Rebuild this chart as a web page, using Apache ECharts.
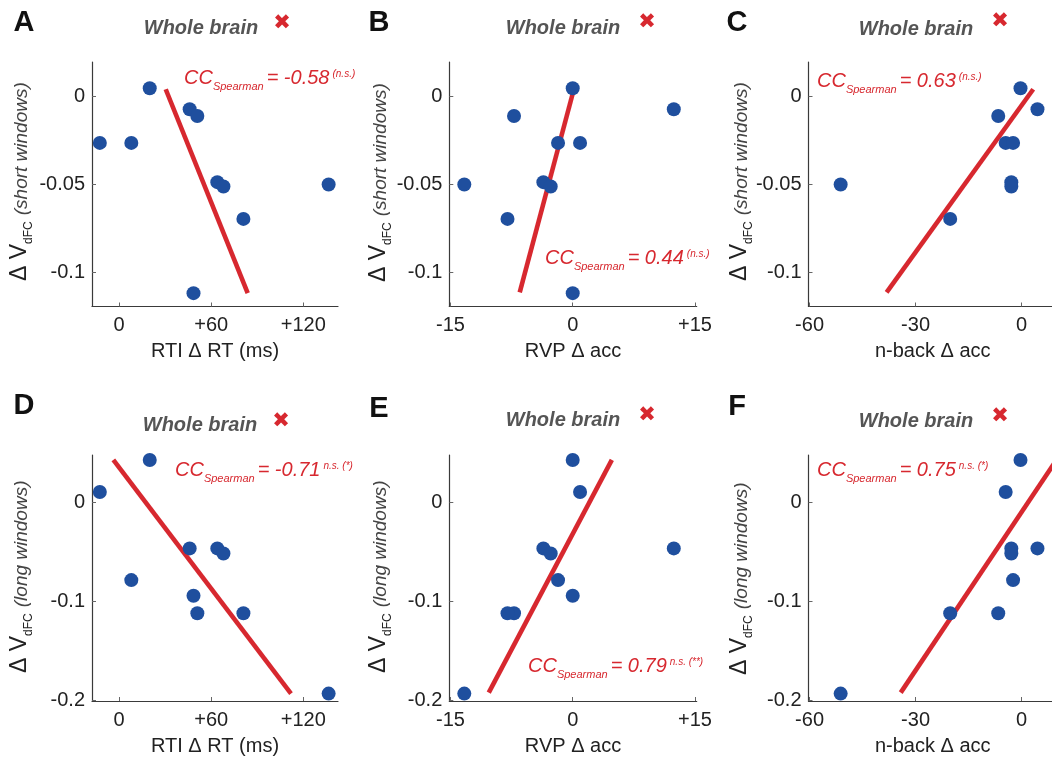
<!DOCTYPE html>
<html>
<head>
<meta charset="utf-8">
<script src="https://cdn.jsdelivr.net/npm/echarts@6/dist/echarts.min.js"></script>
<style>
  html, body { margin: 0; padding: 0; background: #fff; }
  #chart { width: 1052px; height: 760px; }
</style>
</head>
<body>
<div id="chart"></div>
<script>
// Ten subjects, same order in every array (n-back missing for the last one)
const rtiDeltaRT    = [20, 46, 51, -12.5, 8, 64, 136.5, 68, 81, 48.5];
const rvpDeltaAcc   = [0, 12.4, -7.2, 0.9, -1.8, -3.6, -13.3, -2.7, -8, 0];
const nbackDeltaAcc = [-0.3, 4.5, -6.6, -4.5, -2.4, -2.9, -51.2, -2.9, -20.2, null];
const dvShort = [0.0048, -0.0072, -0.011, -0.0263, -0.0263, -0.0486, -0.0499, -0.0511, -0.0695, -0.1117];
const dvLong  = [0.0429, -0.0466, -0.1122, 0.0104, -0.0787, -0.0466, -0.1935, -0.0517, -0.1122, -0.0945];

// Fitted trend segments (start, end)
const fitA = [[30.4, 0.0042], [83.8, -0.1117]];
const fitB = [[-6.5, -0.1113], [0.1, 0.0035]];
const fitC = [[-38.2, -0.1113], [3.3, 0.0042]];
const fitD = [[-3.7, 0.0429], [112, -0.1935]];
const fitE = [[-10.3, -0.1925], [4.8, 0.043]];
const fitF = [[-34.2, -0.1925], [9.9, 0.043]];

// Spearman coefficients and significance notes
const ccValues = ['-0.58', '0.44', '0.63', '-0.71', '0.79', '0.75'];
const ccNotes  = ['(n.s.)', '(n.s.)', '(n.s.)', 'n.s. (*)', 'n.s. (**)', 'n.s. (*)'];
const panelLetters = ['A', 'B', 'C', 'D', 'E', 'F'];

// Tick positions
const ticksRT    = [0, 60, 120];
const ticksRVP   = [-15, 0, 15];
const ticksNback = [-60, -30, 0];
const ticksShort = [-0.1, -0.05, 0];
const ticksLong  = [-0.2, -0.1, 0];

const FONT = '"Liberation Sans", Arial, Helvetica, sans-serif';
const RED = '#d7282f';
const BLUE = '#1f4f9e';

const measureCtx = document.createElement('canvas').getContext('2d');
function textWidth(text, font) { measureCtx.font = font; return measureCtx.measureText(text).width; }

// A run of differently sized pieces sharing one baseline (optionally rotated)
function compositeText(parts, x, y, rotation) {
  let cx = 0;
  const children = [];
  parts.forEach(p => {
    const font = (p.italic ? 'italic ' : 'normal ') + (p.bold ? 'bold ' : 'normal ') + p.size + 'px ' + FONT;
    children.push({
      type: 'text', x: cx, y: (p.dy || 0) - 0.35 * p.size, silent: true,
      style: { text: p.text, font: font, fill: p.color,
               align: 'left', verticalAlign: 'middle', textAlign: 'left', textVerticalAlign: 'middle' }
    });
    cx += textWidth(p.text, font) + (p.gap || 0);
  });
  return { type: 'group', x: x, y: y, rotation: rotation || 0, children: children };
}

function plainText(text, x, y, size, opts) {
  opts = opts || {};
  const font = (opts.italic ? 'italic ' : 'normal ') + (opts.bold ? 'bold ' : 'normal ') + size + 'px ' + (opts.family || FONT);
  return { type: 'text', x: x, y: y, silent: true,
    style: { text: text, font: font, fill: opts.color || '#000',
             align: 'center', verticalAlign: 'middle', textAlign: 'center', textVerticalAlign: 'middle' } };
}

// Panel layout: plot box, axis ranges, and decoration anchors
const panels = [
  { box: [92, 62, 246, 244.5],    xr: [-17.6, 142.6], yr: [-0.1193, 0.0197], xs: rtiDeltaRT,    ys: dvShort, fit: fitA,
    xt: ticksRT, yt: ticksShort, xname: 'RTI \u0394 RT (ms)', win: 'short',
    letter: [24, 23], title: [201, 28], cross: [282, 24], cc: [184, 85], yname: [28, 281] },
  { box: [449.3, 62, 247.4, 244.5], xr: [-15.14, 15.21], yr: [-0.1193, 0.0197], xs: rvpDeltaAcc, ys: dvShort, fit: fitB,
    xt: ticksRVP, yt: ticksShort, xname: 'RVP \u0394 acc', win: 'short',
    letter: [379, 23], title: [563, 28], cross: [647, 23], cc: [545, 265], yname: [387, 282] },
  { box: [808.5, 62, 248.4, 244.5], xr: [-60.3, 10], yr: [-0.1193, 0.0197], xs: nbackDeltaAcc, ys: dvShort, fit: fitC,
    xt: ticksNback, yt: ticksShort, xname: 'n-back \u0394 acc', win: 'short',
    letter: [737, 23], title: [916, 29], cross: [1000, 22], cc: [817, 88], yname: [748, 281] },
  { box: [92, 455, 246, 246],     xr: [-17.6, 142.6], yr: [-0.201, 0.0479], xs: rtiDeltaRT,    ys: dvLong, fit: fitD,
    xt: ticksRT, yt: ticksLong, xname: 'RTI \u0394 RT (ms)', win: 'long',
    letter: [24, 406], title: [200, 425], cross: [281, 422], cc: [175, 477], yname: [28, 673] },
  { box: [449.3, 455, 247.4, 246], xr: [-15.14, 15.21], yr: [-0.201, 0.0479], xs: rvpDeltaAcc, ys: dvLong, fit: fitE,
    xt: ticksRVP, yt: ticksLong, xname: 'RVP \u0394 acc', win: 'long',
    letter: [379, 409], title: [563, 420], cross: [647, 416], cc: [528, 673], yname: [387, 673] },
  { box: [808.5, 455, 248.4, 246], xr: [-60.3, 10], yr: [-0.201, 0.0479], xs: nbackDeltaAcc, ys: dvLong, fit: fitF,
    xt: ticksNback, yt: ticksLong, xname: 'n-back \u0394 acc', win: 'long',
    letter: [737, 407], title: [916, 421], cross: [1000, 417], cc: [817, 477], yname: [748, 675] }
];

const grids = [], xAxes = [], yAxes = [], series = [], graphics = [];

panels.forEach((p, i) => {
  grids.push({ left: p.box[0], top: p.box[1], width: p.box[2], height: p.box[3],
               containLabel: false, outerBoundsMode: 'none' });

  const axisCommon = {
    axisLine: { show: true, onZero: false, lineStyle: { color: '#3a3a3a', width: 1.2 } },
    splitLine: { show: false }
  };
  xAxes.push(Object.assign({}, axisCommon, {
    type: 'value', gridIndex: i, min: p.xr[0], max: p.xr[1],
    axisTick: { show: true, inside: true, length: 4, customValues: p.xt, lineStyle: { color: '#666' } },
    axisLabel: { customValues: p.xt, margin: 9, fontSize: 20, fontFamily: FONT, color: '#222',
                 formatter: v => (v > 0 ? '+' + v : String(v)) },
    name: p.xname, nameLocation: 'middle', nameGap: 35,
    nameTextStyle: { fontSize: 20, fontFamily: FONT, color: '#222' }
  }));
  yAxes.push(Object.assign({}, axisCommon, {
    type: 'value', gridIndex: i, min: p.yr[0], max: p.yr[1],
    axisTick: { show: true, inside: true, length: 4, customValues: p.yt, lineStyle: { color: '#666' } },
    axisLabel: { customValues: p.yt, margin: 7, fontSize: 20, fontFamily: FONT, color: '#222',
                 formatter: v => String(v) }
  }));

  const pts = [];
  p.xs.forEach((x, k) => { if (x !== null && p.ys[k] !== null) pts.push([x, p.ys[k]]); });

  series.push({
    type: 'line', xAxisIndex: i, yAxisIndex: i, data: p.fit, symbol: 'none', silent: true, z: 2,
    lineStyle: { color: RED, width: 4.6 }, animation: false
  });
  series.push({
    type: 'scatter', xAxisIndex: i, yAxisIndex: i, data: pts, symbolSize: 14, silent: true, z: 3,
    itemStyle: { color: BLUE, opacity: 1 }, animation: false
  });

  // panel letter, heading and cross mark
  graphics.push(plainText(panelLetters[i], p.letter[0], p.letter[1], 29, { bold: true, color: '#111' }));
  graphics.push(plainText('Whole brain', p.title[0], p.title[1], 20, { bold: true, italic: true, color: '#555' }));
  graphics.push(plainText('\u2716', p.cross[0], p.cross[1], 21, { color: RED, family: '"DejaVu Sans", sans-serif' }));

  // Spearman annotation
  graphics.push(compositeText([
    { text: 'CC', size: 20, italic: true, color: RED },
    { text: 'Spearman', size: 11, italic: true, color: RED, dy: 6, gap: 3 },
    { text: '= ' + ccValues[i], size: 20, italic: true, color: RED, gap: 3 },
    { text: ccNotes[i], size: 10, italic: true, color: RED, dy: -7 }
  ], p.cc[0], p.cc[1]));

  // rotated y-axis title
  graphics.push(compositeText([
    { text: '\u0394 V', size: 23, color: '#222' },
    { text: 'dFC', size: 12, color: '#222', dy: 5, gap: 6 },
    { text: '(' + p.win + ' windows)', size: 19, italic: true, color: '#444' }
  ], p.yname[0], p.yname[1], Math.PI / 2));
});

const chart = echarts.init(document.getElementById('chart'), null, { renderer: 'canvas' });
chart.setOption({
  backgroundColor: '#ffffff',
  animation: false,
  grid: grids,
  xAxis: xAxes,
  yAxis: yAxes,
  series: series,
  graphic: { elements: graphics }
});
</script>
</body>
</html>
